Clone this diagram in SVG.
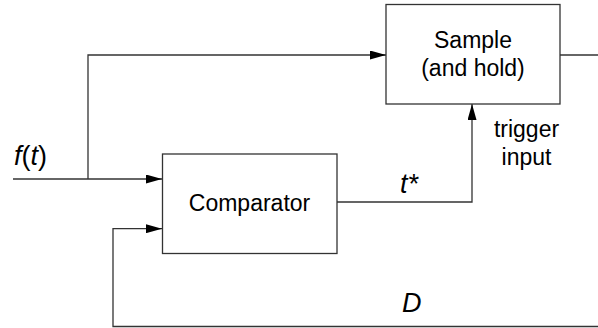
<svg xmlns="http://www.w3.org/2000/svg" width="598" height="328" viewBox="0 0 598 328">
<style>
.box{fill:#fff;stroke:#333;stroke-width:1.3}
.wire{fill:none;stroke:#333;stroke-width:1.3}
.t{font-family:"Liberation Sans",Arial,sans-serif;font-size:23px;fill:#000;text-anchor:middle}
.m{font-family:"Liberation Sans",Arial,sans-serif;font-size:27px;fill:#000}
</style>
<defs>
<marker id="arr" markerWidth="16" markerHeight="9" refX="16" refY="4.5" orient="auto" markerUnits="userSpaceOnUse">
<path d="M0,0 L16,4.5 L0,9 Z" fill="#000"/>
</marker>
</defs>
<g id="connectors">
<path class="wire" d="M13,179 H162" marker-end="url(#arr)"/>
<path class="wire" d="M88,179 V55 H386" marker-end="url(#arr)"/>
<path class="wire" d="M560,55 H598"/>
<path class="wire" d="M337,202 H472 V104" marker-end="url(#arr)"/>
<path class="wire" d="M598,326.5 H113 V228.7 H162" marker-end="url(#arr)"/>
</g>
<g id="comparator">
<rect class="box" x="162.5" y="154" width="174.5" height="99.5"/>
<text class="t" x="249.5" y="210.5">Comparator</text>
</g>
<g id="sample">
<rect class="box" x="386" y="4.5" width="174" height="99.5"/>
<text class="t" x="473" y="47.5">Sample</text>
<text class="t" x="473" y="76">(and hold)</text>
</g>
<g id="labels">
<text class="m" x="14" y="165"><tspan font-style="italic">f</tspan>(<tspan font-style="italic">t</tspan>)</text>
<text class="t" x="526.5" y="137">trigger</text>
<text class="t" x="526.5" y="165">input</text>
<text class="m" x="400" y="193" font-style="italic">t*</text>
<text class="m" x="402" y="312" font-style="italic">D</text>
</g>
</svg>
